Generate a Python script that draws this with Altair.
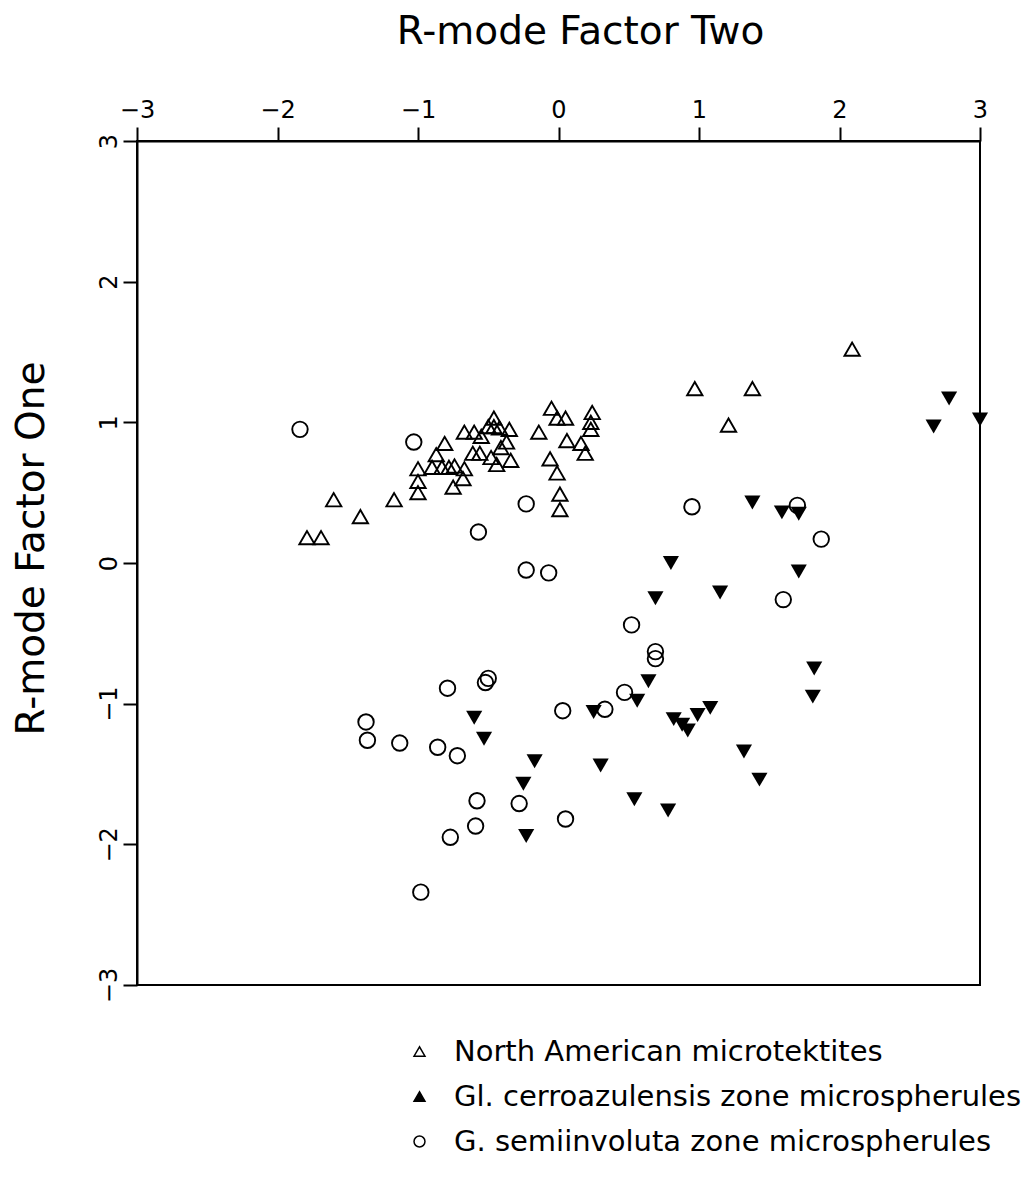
import altair as alt
import pandas as pd

groups = ["North American microtektites",
          "Gl. cerroazulensis zone microspherules",
          "G. semiinvoluta zone microspherules"]

# North American microtektites (open triangles)
na_x = [-0.05, -0.01, 0.05, 0.24, 0.23, 0.23, -0.46, -0.50, -0.46, -0.42,
        -0.67, -0.60, -0.55, -0.35, -0.37, -0.14, 0.06, 0.16, 0.19, -0.41,
        -0.81, -0.87, -0.61, -0.56, -0.48, -0.44, -0.34, -0.06, -0.01, -1.00,
        -0.90, -0.83, -0.78, -0.74, -0.67, -0.68, -1.00, -1.00, -0.75, 0.01,
        0.01, -1.17, -1.60, -1.41, -1.79, -1.69, 2.09, 0.97, 1.38, 1.21]
na_y = [1.10, 1.03, 1.03, 1.07, 1.00, 0.95, 1.03, 0.97, 0.97, 0.96,
        0.93, 0.93, 0.90, 0.95, 0.86, 0.93, 0.87, 0.85, 0.78, 0.82,
        0.85, 0.77, 0.78, 0.78, 0.75, 0.70, 0.73, 0.74, 0.64, 0.67,
        0.68, 0.68, 0.68, 0.69, 0.67, 0.60, 0.58, 0.50, 0.54, 0.49,
        0.38, 0.45, 0.45, 0.33, 0.18, 0.18, 1.52, 1.24, 1.24, 0.98]

# Gl. cerroazulensis zone microspherules (filled down triangles)
gl_x = [2.78, 2.67, 3.00, 1.38, 1.59, 1.71, 0.80, 1.71, 0.69, 1.15,
        1.82, 1.81, 0.64, 0.56, 0.25, 1.08, 0.99, 0.82, 0.88, 0.92,
        -0.60, -0.53, -0.17, 0.30, 1.32, 1.43, -0.25, 0.54, 0.78, -0.23]
gl_y = [1.17, 0.97, 1.02, 0.43, 0.36, 0.35, 0.00, -0.06, -0.25, -0.21,
        -0.75, -0.95, -0.84, -0.98, -1.06, -1.03, -1.08, -1.11, -1.15, -1.19,
        -1.10, -1.25, -1.41, -1.44, -1.34, -1.54, -1.57, -1.68, -1.76, -1.94]

# G. semiinvoluta zone microspherules (open circles)
gs_x = [-1.84, -1.03, -0.23, -0.57, -0.23, -0.07, 0.95, 1.70, 1.87, 1.60,
        0.52, 0.69, 0.69, -0.50, -0.52, 0.47, 0.03, 0.33, -0.58, -0.28,
        -0.59, 0.05, -0.79, -1.37, -1.36, -1.13, -0.86, -0.72, -0.77, -0.98]
gs_y = [0.95, 0.86, 0.42, 0.22, -0.05, -0.07, 0.40, 0.41, 0.17, -0.26,
        -0.44, -0.63, -0.68, -0.82, -0.85, -0.92, -1.05, -1.04, -1.69, -1.71,
        -1.87, -1.82, -0.89, -1.13, -1.26, -1.28, -1.31, -1.37, -1.95, -2.34]

ticks = [-3, -2, -1, 0, 1, 2, 3]

df = pd.concat([
    pd.DataFrame({"f2": na_x, "f1": na_y, "group": groups[0]}),
    pd.DataFrame({"f2": gl_x, "f1": gl_y, "group": groups[1]}),
    pd.DataFrame({"f2": gs_x, "f1": gs_y, "group": groups[2]}),
], ignore_index=True)

FONT = "DejaVu Sans"
LABEL_SIZE = 24
TITLE_SIZE = 39

xenc = alt.X("f2:Q",
             scale=alt.Scale(domain=[-3, 3], nice=False, zero=False),
             axis=alt.Axis(orient="top", values=ticks, title="R-mode Factor Two",
                           grid=False, tickSize=14, labelPadding=10,
                           labelBaseline="alphabetic", labelFlush=False,
                           labelOverlap=False, labelFont=FONT,
                           labelFontSize=LABEL_SIZE, labelColor="black",
                           titleFont=FONT, titleFontSize=TITLE_SIZE,
                           titleFontWeight="normal", titleColor="black",
                           titleX=443, titleY=-98, titleAlign="center",
                           titleBaseline="alphabetic", titleAngle=0))
yenc = alt.Y("f1:Q",
             scale=alt.Scale(domain=[-3, 3], nice=False, zero=False),
             axis=alt.Axis(orient="left", values=ticks, title="R-mode Factor One",
                           grid=False, tickSize=14, labelPadding=7,
                           labelAngle=270, labelAlign="center",
                           labelBaseline="alphabetic", labelFlush=False,
                           labelOverlap=False, labelFont=FONT,
                           labelFontSize=LABEL_SIZE, labelColor="black",
                           titleFont=FONT, titleFontSize=TITLE_SIZE,
                           titleFontWeight="normal", titleColor="black",
                           titleX=-94, titleY=407, titleAngle=270,
                           titleAlign="center", titleBaseline="alphabetic"))

base = alt.Chart(df).encode(x=xenc, y=yenc)

na_layer = base.transform_filter(alt.datum.group == groups[0]).mark_point(
    shape="triangle-up", filled=False, stroke="black", strokeWidth=1.9,
    size=235, opacity=1)
gl_layer = base.transform_filter(alt.datum.group == groups[1]).mark_point(
    shape="triangle-down", filled=True, fill="black", strokeWidth=0,
    size=260, opacity=1)
gs_layer = base.transform_filter(alt.datum.group == groups[2]).mark_point(
    shape="circle", filled=False, stroke="black", strokeWidth=1.9,
    size=240, opacity=1)

leg = alt.Legend(title=None, orient="none", legendX=268, legendY=896,
                 symbolOpacity=1, symbolSize=120, symbolStrokeWidth=1.5,
                 labelFont=FONT, labelFontSize=29,
                 labelColor="black", labelOffset=20, rowPadding=15,
                 padding=0, labelLimit=800)

legend_layer = base.mark_point(opacity=0, strokeWidth=1.5).encode(
    shape=alt.Shape("group:N",
                    scale=alt.Scale(domain=groups,
                                    range=["triangle-up", "triangle-up", "circle"]),
                    legend=leg),
    fill=alt.Fill("group:N",
                  scale=alt.Scale(domain=groups, range=["white", "black", "white"]),
                  legend=leg),
    stroke=alt.Stroke("group:N",
                      scale=alt.Scale(domain=groups, range=["black", "black", "black"]),
                      legend=leg),
)

chart = alt.layer(na_layer, gl_layer, gs_layer, legend_layer).properties(
    width=843, height=844,
    autosize=alt.AutoSizeParams(type="none"),
    padding={"left": 129, "top": 133, "right": 46, "bottom": 180},
    background="white",
).configure_view(
    stroke="black", strokeWidth=2
).configure_axis(
    domainColor="black", domainWidth=2, tickColor="black", tickWidth=2,
)

chart.save("out.html", embed_options={"renderer": "svg", "actions": False})
